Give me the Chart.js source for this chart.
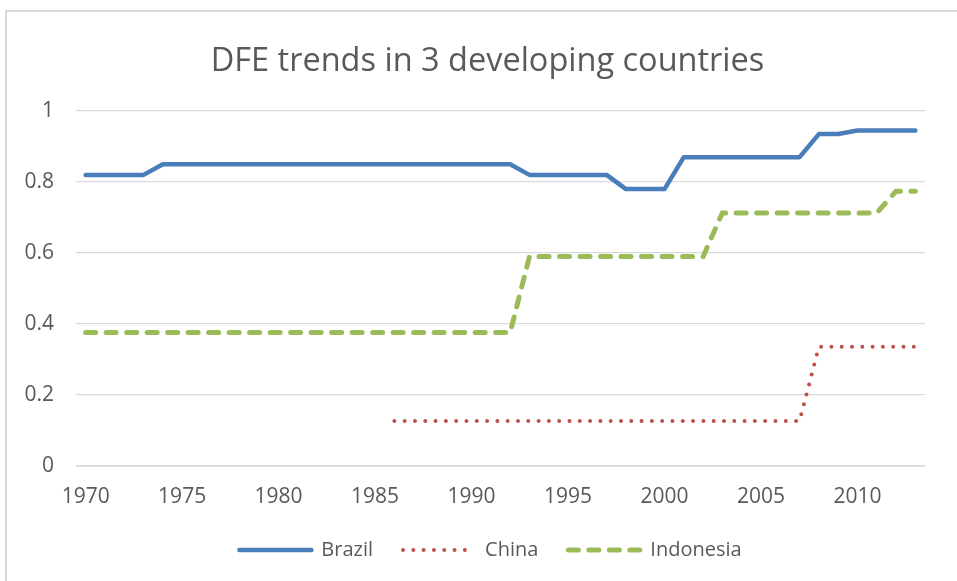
<!DOCTYPE html>
<html>
<head>
<meta charset="utf-8">
<script src="https://cdn.jsdelivr.net/npm/chart.js@4/dist/chart.umd.min.js"></script>
<style>
  body { margin: 0; background: #fff; }
  #wrap { position: relative; width: 957px; height: 581px; overflow: hidden; }
  #frame { position: absolute; left: 5px; top: 10px; width: 980px; height: 600px;
           border-left: 2px solid #d9d9d9; border-top: 2px solid #d9d9d9; }
  #myLine { position: absolute; left: 0; top: 0; }
</style>
</head>
<body>
<div id="wrap">
  <div id="frame"></div>
  <canvas id="myLine" width="957" height="581"></canvas>
</div>
<script>
var years = [1970, 1971, 1972, 1973, 1974, 1975, 1976, 1977, 1978, 1979,
             1980, 1981, 1982, 1983, 1984, 1985, 1986, 1987, 1988, 1989,
             1990, 1991, 1992, 1993, 1994, 1995, 1996, 1997, 1998, 1999,
             2000, 2001, 2002, 2003, 2004, 2005, 2006, 2007, 2008, 2009,
             2010, 2011, 2012, 2013];

var brazil = [0.82, 0.82, 0.82, 0.82, 0.85, 0.85, 0.85, 0.85, 0.85, 0.85,
              0.85, 0.85, 0.85, 0.85, 0.85, 0.85, 0.85, 0.85, 0.85, 0.85,
              0.85, 0.85, 0.85, 0.82, 0.82, 0.82, 0.82, 0.82, 0.78, 0.78,
              0.78, 0.87, 0.87, 0.87, 0.87, 0.87, 0.87, 0.87, 0.935, 0.935,
              0.945, 0.945, 0.945, 0.945];

var china = [null, null, null, null, null, null, null, null, null, null,
             null, null, null, null, null, null, 0.127, 0.127, 0.127, 0.127,
             0.127, 0.127, 0.127, 0.127, 0.127, 0.127, 0.127, 0.127, 0.127, 0.127,
             0.127, 0.127, 0.127, 0.127, 0.127, 0.127, 0.127, 0.127, 0.336, 0.336,
             0.336, 0.336, 0.336, 0.336];

var indonesia = [0.376, 0.376, 0.376, 0.376, 0.376, 0.376, 0.376, 0.376, 0.376, 0.376,
                 0.376, 0.376, 0.376, 0.376, 0.376, 0.376, 0.376, 0.376, 0.376, 0.376,
                 0.376, 0.376, 0.376, 0.59, 0.59, 0.59, 0.59, 0.59, 0.59, 0.59,
                 0.59, 0.59, 0.59, 0.713, 0.713, 0.713, 0.713, 0.713, 0.713, 0.713,
                 0.713, 0.713, 0.774, 0.774];

var yTicks = [0, 0.2, 0.4, 0.6, 0.8, 1];

var textGray = "#595959";
var gridGray = "#d9d9d9";
var fontName = "'Open Sans', sans-serif";

var ctxLine = document.getElementById("myLine");

var myLineChart = new Chart(ctxLine, {
    type: "line",
    data: {
        labels: years,
        datasets: [
            {
                label: "Brazil",
                data: brazil,
                borderColor: "#4a7ebb",
                borderWidth: 4.5,
                borderCapStyle: "round",
                borderJoinStyle: "round",
                pointRadius: 0,
                fill: false
            },
            {
                label: "China",
                data: china,
                borderColor: "#c0504d",
                borderWidth: 4,
                borderDash: [0, 10.3],
                borderCapStyle: "round",
                pointRadius: 0,
                fill: false
            },
            {
                label: "Indonesia",
                data: indonesia,
                borderColor: "#9bbb59",
                borderWidth: 5,
                borderDash: [10, 10.5],
                borderCapStyle: "round",
                pointRadius: 0,
                fill: false
            }
        ]
    },
    options: {
        responsive: false,
        animation: false,
        layout: { padding: { top: 11, left: 24, right: 32, bottom: 11 } },
        scales: {
            x: {
                offset: true,
                grid: { display: false, drawTicks: false },
                border: { display: false },
                afterFit: function (scale) { scale.height = 44; },
                ticks: {
                    autoSkip: false,
                    maxRotation: 0,
                    padding: 18,
                    color: textGray,
                    font: { family: fontName, size: 21 },
                    callback: function (val, i) {
                        var y = years[i];
                        return (y - 1970) % 5 === 0 ? String(y) : "";
                    }
                }
            },
            y: {
                min: 0,
                max: 1,
                afterBuildTicks: function (scale) {
                    scale.ticks = yTicks.map(function (v) { return { value: v }; });
                },
                afterFit: function (scale) { scale.width = 52; },
                grid: { color: gridGray, lineWidth: 1.3, drawTicks: false },
                border: { display: false },
                ticks: {
                    padding: 22,
                    color: textGray,
                    font: { family: fontName, size: 21 },
                    callback: function (v) { return String(Math.round(v * 10) / 10); }
                }
            }
        },
        plugins: {
            title: {
                display: true,
                text: "DFE trends in 3 developing countries",
                color: textGray,
                font: { family: fontName, size: 32.5, weight: "normal" },
                padding: { top: 31, bottom: 30 }
            },
            legend: {
                position: "bottom",
                labels: {
                    usePointStyle: true,
                    pointStyle: "line",
                    pointStyleWidth: 72,
                    padding: 30,
                    color: textGray,
                    font: { family: fontName, size: 20 },
                    generateLabels: function (chart) {
                        var items = Chart.defaults.plugins.legend.labels.generateLabels(chart);
                        items.forEach(function (it) {
                            var ds = chart.data.datasets[it.datasetIndex];
                            it.pointStyle = "line";
                            it.strokeStyle = ds.borderColor;
                            it.lineWidth = ds.borderWidth;
                            it.lineDash = ds.borderDash || [];
                            it.lineCap = ds.borderCapStyle;
                        });
                        return items;
                    }
                }
            },
            tooltip: { enabled: false }
        }
    },
    plugins: [{
        id: "zeroLine",
        afterLayout: function (chart) {
            // Excel centres title and legend on the whole chart box, which is wider than the crop
            chart.titleBlock.left += 13;
            chart.titleBlock.right += 13;
            chart.legend.left += 16;
            chart.legend.right += 16;
        },
        beforeDatasetsDraw: function (chart) {
            var c = chart.ctx, area = chart.chartArea, y0 = chart.scales.y.getPixelForValue(0);
            c.save();
            c.strokeStyle = gridGray;
            c.lineWidth = 1.3;
            c.beginPath();
            c.moveTo(area.left, y0);
            c.lineTo(area.right, y0);
            c.stroke();
            c.restore();
        }
    }]
});
</script>
</body>
</html>
